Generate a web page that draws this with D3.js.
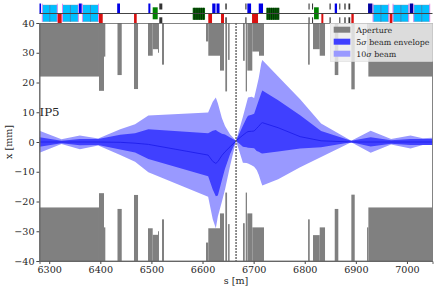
<!DOCTYPE html>
<html>
<head>
<meta charset="utf-8">
<script src="https://cdn.jsdelivr.net/npm/d3@7"></script>
<style>
body { margin: 0; background: #fff; }
text { font-family: "DejaVu Serif", serif; fill: #262626; }
</style>
</head>
<body>
<div id="chart"></div>
<script>
const xTicks = [6300, 6400, 6500, 6600, 6700, 6800, 6900, 7000];
const yTicks = [-40, -30, -20, -10, 0, 10, 20, 30, 40];

// aperture blocks: start s, end s, upper and lower edge in mm
const apStart = [6281, 6397.4, 6407.2, 6433.6, 6465.9, 6493.3, 6502.5, 6512.9, 6520.7, 6606.8, 6611.3, 6634.2, 6644.6, 6650, 6679.2, 6684.5, 6687.7, 6697.4, 6710.5, 6806.5, 6816.2, 6829.3, 6858.7, 6891.2, 6921.9, 6924.5];
const apEnd = [6397.4, 6407.2, 6409.8, 6441.9, 6473.8, 6502.5, 6512.9, 6514.8, 6524.6, 6611.3, 6634.2, 6642, 6648, 6653, 6682.6, 6687, 6697.4, 6710.5, 6720.3, 6809.8, 6829.3, 6839.7, 6865.7, 6897.8, 6924.5, 7050];
const apUpper = [22, 17.2, 28.7, 22.5, 17.8, 29, 31.2, 30, 26, 33.8, 29, 24, 17, 27.6, 27.3, 17, 24, 30.4, 29, 26, 31.2, 29, 22.5, 17.7, 28.7, 22];
const apLower = [-22, -17.2, -28.7, -22.5, -17.8, -29, -31.2, -30, -26, -33.8, -29, -24, -17, -27.6, -27.3, -17, -24, -28.7, -28.7, -26, -31.3, -28.7, -22.5, -17.7, -28.7, -22];

const beamS = [6281, 6324, 6360, 6396, 6439, 6468, 6494, 6611, 6620, 6626, 6630, 6638, 6644, 6654, 6665.6, 6679, 6686, 6689, 6696, 6701, 6706, 6710, 6715, 6717, 6748, 6791, 6832, 6891, 6929, 6969, 7007, 7031, 7050];
const upper10 = [3.8, 0.9, 2.2, 1.2, 4.3, 6, 8.9, 9.9, 13.5, 15, 13, 8, 5.4, 2.5, 0.4, 8.5, 13, 15, 15.2, 14.8, 18.5, 21.5, 26.5, 27.6, 22, 14.4, 6.2, 0.4, 3.8, 1, 2.2, 1.3, 1.4];
const lower10 = [-3.6, -0.7, -2.4, -1.2, -4.4, -6.6, -10.2, -18.4, -26, -29, -25, -20, -16, -8, 0.4, -7, -7.1, -7.2, -7.8, -8.3, -9.4, -11, -13.7, -14.6, -12.5, -8.5, -5, -0.1, -3.6, -0.8, -2.2, -1, -1];
const upper5 = [1.6, 0.4, 1, 1, 2.4, 2.9, 4.3, 2.9, 3.8, 4, 3.5, 2.8, 2.5, 1.5, 0.4, 5.5, 8, 8.8, 9.2, 9.5, 12, 14, 16.5, 17.3, 14, 9, 3.7, 0.4, 1.6, 0.6, 1, 1, 1];
const lower5 = [-1.6, -0.4, -1.1, -1, -2.5, -3.5, -5.7, -11.5, -16, -18.2, -18, -12.8, -9, -4, 0.4, -1.6, -1.8, -1.9, -2, -2.1, -3, -3.3, -3.8, -3.9, -3.2, -2.2, -1.8, -0.1, -1.5, -0.6, -1, -1, -1];
const centre = [0, 0, 0, 0, -0.1, -0.4, -0.8, -4.4, -6.5, -7.2, -6.6, -4.5, -3.3, -1.6, 0.4, 2.3, 3.2, 3.5, 3.6, 3.7, 4.6, 5.3, 6.3, 6.5, 4.8, 1.8, 0.4, 0, 0, 0, 0, 0, 0];

const ipS = 6665.6;

// machine layout strip, [start, end] in s
const dipoles = [[6286.5, 6315.8], [6326, 6357], [6365, 6396.5], [6933.7, 6964.4], [6972.8, 7003.5], [7013.3, 7044.6]];
const quadsF = [[6281, 6284], [6358.3, 6363.6], [6433, 6438.5], [6494, 6498], [6619, 6625.4], [6627.4, 6633.3], [6687.7, 6695], [6710, 6718.4], [6858.7, 6863.2]];
const quadsDark = [[6923.9, 6932.3], [7005.5, 7012]];
const quadsD = [[6316.6, 6324.4], [6397.4, 6404.7], [6466, 6471.2], [6611.3, 6618.6], [6636.2, 6642], [6696.9, 6708.6], [6832.5, 6836.4], [6891.2, 6895.9], [6966.3, 6971.4]];
const greens = [[6502.5, 6512.3], [6818.2, 6827.4]];
const greensPacked = [[6580.8, 6604.9], [6724.8, 6749.6]];
const sextupoles = [[6515.4, 6521.3], [6644.6, 6647.4], [6683.8, 6686], [6807.4, 6809.5], [6814.3, 6816.3], [6848.5, 6850.8], [6867.6, 6869.6], [6877.5, 6880], [6885.5, 6889]];

const legendLabels = ["Aperture", "beam5", "beam10"];

const width = 436, height = 289;
const svg = d3.select("#chart").append("svg").attr("width", width).attr("height", height).style("display", "block");

const x = d3.scaleLinear().domain([6281, 7050]).range([39.5, 432.5]);
const y = d3.scaleLinear().domain([-40, 40]).range([261, 23]);

svg.append("defs").append("clipPath").attr("id", "plot")
    .append("rect").attr("x", 39.5).attr("y", 23).attr("width", 393).attr("height", 238);

const plot = svg.append("g").attr("clip-path", "url(#plot)");

// aperture
apStart.forEach((s, i) => {
    plot.append("rect").attr("x", x(s)).attr("width", x(apEnd[i]) - x(s))
        .attr("y", y(40)).attr("height", y(apUpper[i]) - y(40)).attr("fill", "#808080");
    plot.append("rect").attr("x", x(s)).attr("width", x(apEnd[i]) - x(s))
        .attr("y", y(apLower[i])).attr("height", y(-40) - y(apLower[i])).attr("fill", "#808080");
});

// beam
const area = (up, lo) => d3.area()
    .x((d, i) => x(beamS[i]))
    .y0((d, i) => y(lo[i]))
    .y1((d, i) => y(up[i]))(beamS);

plot.append("path").attr("d", area(upper10, lower10)).attr("fill", "#9999ff");
plot.append("path").attr("d", area(upper5, lower5)).attr("fill", "#4040ff");
plot.append("path")
    .attr("d", d3.line().x((d, i) => x(beamS[i])).y((d, i) => y(centre[i]))(beamS))
    .attr("fill", "none").attr("stroke", "#2222ee").attr("stroke-width", 1);

plot.append("line").attr("x1", x(ipS)).attr("x2", x(ipS)).attr("y1", 23).attr("y2", 261)
    .attr("stroke", "#555").attr("stroke-width", 1.3).attr("stroke-dasharray", "2,1");

// machine strip
const strip = svg.append("g");
const stripRect = (list, y0, y1, fill) => strip.selectAll(null).data(list).enter().append("rect")
    .attr("x", d => x(d[0])).attr("width", d => x(d[1]) - x(d[0]))
    .attr("y", y0).attr("height", y1 - y0).attr("fill", fill);

stripRect(dipoles, 5, 21.7, "#00bfff").attr("stroke", "#6a9fb5").attr("stroke-width", 0.4);
dipoles.forEach(d => {
    [d[0], d[1]].forEach(s => strip.append("line").attr("x1", x(s)).attr("x2", x(s)).attr("y1", 3.7).attr("y2", 22)
        .attr("stroke", "#ee82ee").attr("stroke-width", 0.9));
    const mid = (d[0] + d[1]) / 2;
    strip.append("line").attr("x1", x(mid)).attr("x2", x(mid)).attr("y1", 5).attr("y2", 21.7)
        .attr("stroke", "#3f88b8").attr("stroke-width", 1);
});
stripRect(greens, 7.3, 19.3, "#008000");
stripRect(greensPacked, 7.8, 19.8, "#0a6a0a");
greensPacked.forEach(d => {
    d3.range(d[0] + 3, d[1], 3.6).forEach(s => strip.append("line")
        .attr("x1", x(s)).attr("x2", x(s)).attr("y1", 7.8).attr("y2", 19.8)
        .attr("stroke", "#012a01").attr("stroke-width", 0.9));
});
stripRect(quadsF, 3.5, 13.5, "#0000e6");
stripRect(quadsDark, 3.5, 13.5, "#0000a0");
stripRect(quadsD, 13.5, 23, "#d81010");
stripRect(sextupoles, 3.5, 9.5, "#333");
stripRect(sextupoles, 17.3, 23, "#333");
strip.append("line").attr("x1", 39.5).attr("x2", 432.5).attr("y1", 13.5).attr("y2", 13.5)
    .attr("stroke", "#444").attr("stroke-width", 1);

// axes
const xAxis = svg.append("g").attr("transform", "translate(0,261)")
    .call(d3.axisBottom(x).tickValues(xTicks).tickFormat(d3.format("d")).tickSize(3).tickPadding(2));
const yAxis = svg.append("g").attr("transform", "translate(39.5,0)")
    .call(d3.axisLeft(y).tickValues(yTicks).tickSize(3).tickPadding(2));
[xAxis, yAxis].forEach(a => {
    a.selectAll("text").style("font-family", "'DejaVu Serif', serif").style("font-size", "9.6px").attr("fill", "#262626");
    a.selectAll("line").attr("stroke", "#444");
    a.select(".domain").attr("stroke", "#666");
});
svg.append("rect").attr("x", 39.5).attr("y", 23.5).attr("width", 393).attr("height", 237.5)
    .attr("fill", "none").attr("stroke", "#666").attr("stroke-width", 0.8);

svg.append("text").attr("x", 236).attr("y", 284).attr("text-anchor", "middle").style("font-size", "9.6px").text("s [m]");
svg.append("text").attr("transform", "translate(11.5,142) rotate(-90)").attr("text-anchor", "middle").style("font-size", "9.6px").text("x [mm]");
svg.append("text").attr("x", 39.5).attr("y", 115.5).style("font-size", "11.8px").text("IP5");

// legend
const legend = svg.append("g");
legend.append("rect").attr("x", 330.5).attr("y", 23.5).attr("width", 102).attr("height", 38)
    .attr("fill", "#ececec").attr("fill-opacity", 0.85).attr("stroke", "#ddd").attr("stroke-width", 0.6);
const legendColors = ["#808080", "#4040ff", "#9999ff"];
legendLabels.forEach((label, i) => {
    const cy = 29.7 + i * 12;
    legend.append("rect").attr("x", 333.7).attr("y", cy - 3).attr("width", 16.6).attr("height", 6).attr("fill", legendColors[i]);
    const t = legend.append("text").attr("x", 356.3).attr("y", cy + 3).style("font-size", "7.9px");
    if (i === 0) {
        t.text(label);
    } else {
        t.append("tspan").text(i === 1 ? "5" : "10");
        t.append("tspan").style("font-style", "italic").text("σ");
        t.append("tspan").text(i === 1 ? " beam envelope" : " beam");
    }
});
</script>
</body>
</html>
